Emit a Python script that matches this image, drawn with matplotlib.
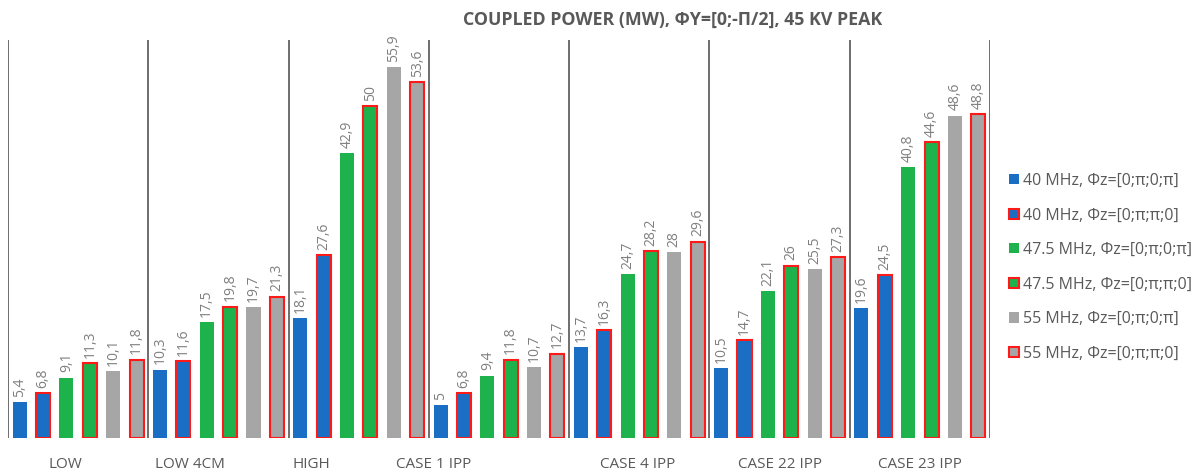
#!/usr/bin/env python3

import numpy as np
import matplotlib
matplotlib.use("Agg")
import matplotlib.pyplot as plt
from matplotlib.patches import Patch

plt.rcParams['font.family'] = ['Open Sans', 'DejaVu Sans']

categories = ["LOW", "LOW 4CM", "HIGH", "CASE 1 IPP", "CASE 4 IPP", "CASE 22 IPP", "CASE 23 IPP"]
series_labels = [
    "40 MHz, \u03a6z=[0;\u03c0;0;\u03c0]",
    "40 MHz, \u03a6z=[0;\u03c0;\u03c0;0]",
    "47.5 MHz, \u03a6z=[0;\u03c0;0;\u03c0]",
    "47.5 MHz, \u03a6z=[0;\u03c0;\u03c0;0]",
    "55 MHz, \u03a6z=[0;\u03c0;0;\u03c0]",
    "55 MHz, \u03a6z=[0;\u03c0;\u03c0;0]",
]
f40_a = [5.4, 10.3, 18.1, 5.0, 13.7, 10.5, 19.6]
f40_b = [6.8, 11.6, 27.6, 6.8, 16.3, 14.7, 24.5]
f475_a = [9.1, 17.5, 42.9, 9.4, 24.7, 22.1, 40.8]
f475_b = [11.3, 19.8, 50.0, 11.8, 28.2, 26.0, 44.6]
f55_a = [10.1, 19.7, 55.9, 10.7, 28.0, 25.5, 48.6]
f55_b = [11.8, 21.3, 53.6, 12.7, 29.6, 27.3, 48.8]
series = [f40_a, f40_b, f475_a, f475_b, f55_a, f55_b]

# the category labels in the original sit off-centre for the first groups
label_shift = [-0.093, -0.2, -0.336, -0.464, -0.01, 0.0, 0.0]

BLUE = "#1a6fc4"
GREEN = "#1db24b"
GRAY = "#a6a6a6"
RED = "#ff1a1a"
TXT = "#595959"

faces = [BLUE, BLUE, GREEN, GREEN, GRAY, GRAY]
edges = [None, RED, None, RED, None, RED]


def fmt(v):
    s = f"{v:.1f}".rstrip("0").rstrip(".")
    return s.replace(".", ",")


def main():
    fig = plt.figure(figsize=(11.99, 4.72), dpi=100)
    ax = fig.add_axes([8 / 1199, 1 - 438 / 472, 982 / 1199, 398 / 472])

    x = np.arange(len(categories))
    width = 0.1
    for i, vals in enumerate(series):
        pos = x + (i - 2.5) / 6
        if edges[i]:
            bars = ax.bar(pos, vals, width, color=faces[i], edgecolor=edges[i], linewidth=1.5)
        else:
            bars = ax.bar(pos, vals, width, color=faces[i], linewidth=0)
        for b, v in zip(bars, vals):
            ax.text(b.get_x() + b.get_width() / 2, v + 0.8, fmt(v), rotation=90,
                    ha="center", va="bottom", fontsize=10, color="#7f7f7f")

    for k in range(len(categories) + 1):
        ax.axvline(k - 0.5, color="#555555", lw=1.2)

    ax.set_xlim(-0.5, len(categories) - 0.5)
    ax.set_ylim(0, 60)
    for s in ax.spines.values():
        s.set_visible(False)
    ax.set_yticks([])
    ax.set_xticks(x + np.array(label_shift))
    ax.set_xticklabels(categories, fontsize=11, color=TXT)
    ax.tick_params(axis="x", length=0, pad=14)

    fig.text(0.561, 0.958, "COUPLED POWER (MW), \u03a6Y=[0;-\u03a0/2], 45 KV PEAK",
             ha="center", va="center", fontsize=12.8, fontweight="bold", color=TXT)

    handles = [Patch(facecolor=faces[i], edgecolor=edges[i] if edges[i] else faces[i],
                     linewidth=1.5 if edges[i] else 0) for i in range(6)]
    fig.legend(handles, series_labels, loc="upper left", bbox_to_anchor=(1009 / 1199, 1 - 173 / 472),
               frameon=False, fontsize=11.5, labelcolor=TXT, handlelength=0.6, handleheight=0.6,
               handletextpad=0.3, labelspacing=1.16, borderaxespad=0, borderpad=0)

    fig.savefig("out.png", dpi=100)


if __name__ == "__main__":
    main()
